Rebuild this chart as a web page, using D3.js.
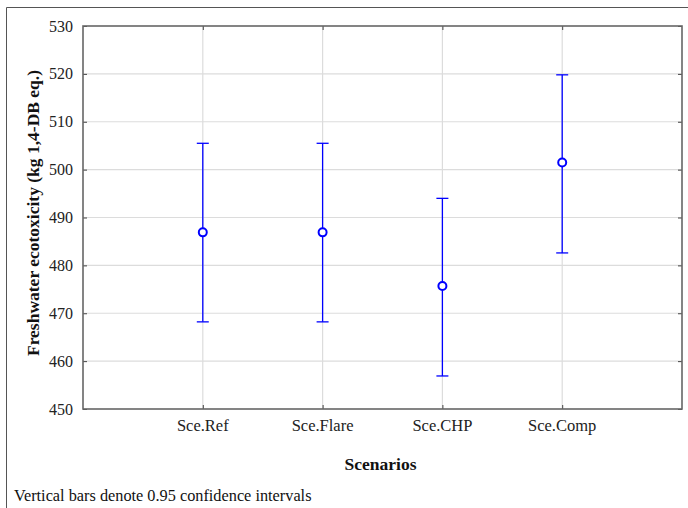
<!DOCTYPE html>
<html>
<head>
<meta charset="utf-8">
<script src="https://cdn.jsdelivr.net/npm/d3@7"></script>
<style>
  body { margin: 0; background: #fff; }
  svg { display: block; font-family: "Liberation Serif", "Times New Roman", serif; }
</style>
</head>
<body>
<div id="chart"></div>
<script>
// data
var scenarios = ["Sce.Ref", "Sce.Flare", "Sce.CHP", "Sce.Comp"];
var means = [486.9, 486.9, 475.7, 501.5];
var lower = [468.2, 468.2, 456.9, 482.6];
var upper = [505.5, 505.5, 494.0, 519.8];
var yTicks = [450, 460, 470, 480, 490, 500, 510, 520, 530];

var width = 688, height = 508;
var plotL = 83, plotR = 682, plotT = 26, plotB = 409;

var svg = d3.select("#chart").append("svg")
  .attr("width", width)
  .attr("height", height);

// outer frame (top and left edges only show)
svg.append("path")
  .attr("d", "M6.5," + height + "V7.5H" + width)
  .attr("fill", "none")
  .attr("stroke", "#555")
  .attr("stroke-width", 1);

var y = d3.scaleLinear().domain([450, 530]).range([plotB, plotT]);
var x = d3.scalePoint().domain(scenarios).range([plotL, plotR]).padding(1);

var data = scenarios.map(function(s, i) {
  return { name: s, mean: means[i], lo: lower[i], hi: upper[i] };
});

// grid
svg.append("g").selectAll("line")
  .data(yTicks.slice(1, -1))
  .enter().append("line")
  .attr("x1", plotL).attr("x2", plotR)
  .attr("y1", function(d) { return y(d); })
  .attr("y2", function(d) { return y(d); })
  .attr("stroke", "#dcdcdc").attr("stroke-width", 1.2);

svg.append("g").selectAll("line")
  .data(scenarios)
  .enter().append("line")
  .attr("x1", function(d) { return x(d); })
  .attr("x2", function(d) { return x(d); })
  .attr("y1", plotT).attr("y2", plotB)
  .attr("stroke", "#dcdcdc").attr("stroke-width", 1.2);

// axes, ticks pointing inward
var yAxis = svg.append("g")
  .attr("transform", "translate(" + plotL + ",0)")
  .call(d3.axisRight(y).tickValues(yTicks).tickSize(4).tickFormat(""));
var yAxisR = svg.append("g")
  .attr("transform", "translate(" + plotR + ",0)")
  .call(d3.axisLeft(y).tickValues(yTicks).tickSize(4).tickFormat(""));
var xAxis = svg.append("g")
  .attr("transform", "translate(0," + plotB + ")")
  .call(d3.axisTop(x).tickSize(4).tickFormat(""));
var xAxisT = svg.append("g")
  .attr("transform", "translate(0," + plotT + ")")
  .call(d3.axisBottom(x).tickSize(4).tickFormat(""));

[yAxis, yAxisR, xAxis, xAxisT].forEach(function(a) {
  a.select(".domain").remove();
  a.selectAll(".tick line").attr("stroke", "#444");
});

svg.append("rect")
  .attr("x", plotL).attr("y", plotT)
  .attr("width", plotR - plotL).attr("height", plotB - plotT)
  .attr("fill", "none")
  .attr("stroke", "#666")
  .attr("stroke-width", 1.6);

// tick labels
svg.append("g").selectAll("text")
  .data(yTicks)
  .enter().append("text")
  .attr("x", plotL - 10)
  .attr("y", function(d) { return y(d); })
  .attr("dy", "0.35em")
  .attr("text-anchor", "end")
  .attr("font-size", 16)
  .attr("fill", "#222")
  .text(function(d) { return d; });

svg.append("g").selectAll("text")
  .data(scenarios)
  .enter().append("text")
  .attr("x", function(d) { return x(d); })
  .attr("y", plotB + 22)
  .attr("text-anchor", "middle")
  .attr("font-size", 16.5)
  .attr("fill", "#222")
  .text(function(d) { return d; });

// error bars
var bars = svg.append("g").selectAll("g")
  .data(data)
  .enter().append("g")
  .attr("stroke", "#0000ff");

bars.append("line")
  .attr("x1", function(d) { return x(d.name); })
  .attr("x2", function(d) { return x(d.name); })
  .attr("y1", function(d) { return y(d.lo); })
  .attr("y2", function(d) { return y(d.hi); })
  .attr("stroke-width", 1.3);

bars.selectAll("line.cap")
  .data(function(d) { return [{ name: d.name, v: d.lo }, { name: d.name, v: d.hi }]; })
  .enter().append("line")
  .attr("class", "cap")
  .attr("x1", function(d) { return x(d.name) - 6; })
  .attr("x2", function(d) { return x(d.name) + 6; })
  .attr("y1", function(d) { return y(d.v); })
  .attr("y2", function(d) { return y(d.v); })
  .attr("stroke-width", 1.3);

bars.append("circle")
  .attr("cx", function(d) { return x(d.name); })
  .attr("cy", function(d) { return y(d.mean); })
  .attr("r", 4)
  .attr("fill", "#fff")
  .attr("stroke-width", 2);

// titles
svg.append("text")
  .attr("x", (plotL + plotR) / 2 - 2)
  .attr("y", 470)
  .attr("text-anchor", "middle")
  .attr("font-size", 17.5)
  .attr("font-weight", "bold")
  .attr("fill", "#111")
  .text("Scenarios");

svg.append("text")
  .attr("transform", "translate(39,213) rotate(-90)")
  .attr("text-anchor", "middle")
  .attr("font-size", 17.5)
  .attr("font-weight", "bold")
  .attr("fill", "#111")
  .text("Freshwater ecotoxicity (kg 1,4-DB eq.)");

svg.append("text")
  .attr("x", 14)
  .attr("y", 501)
  .attr("font-size", 16.3)
  .attr("fill", "#111")
  .text("Vertical bars denote 0.95 confidence intervals");
</script>
</body>
</html>
